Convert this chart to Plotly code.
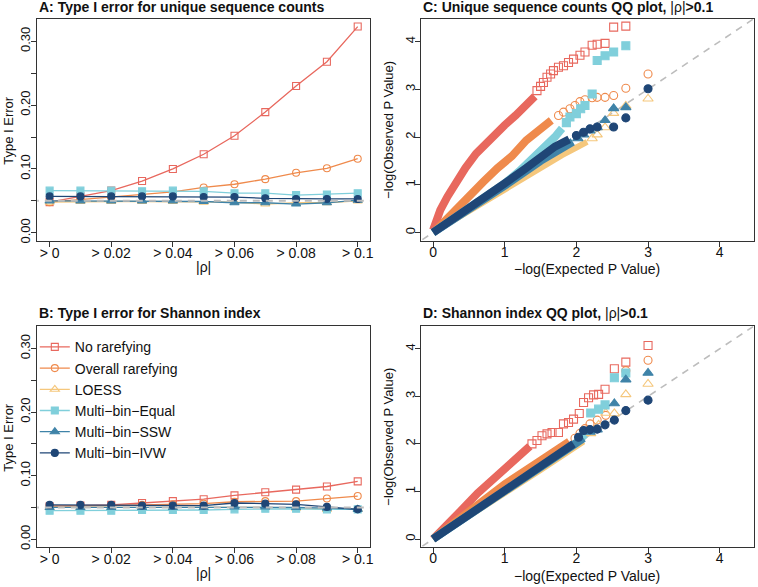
import plotly.graph_objects as go

# ---------------- data ----------------
thresholds = [0, 0.01, 0.02, 0.03, 0.04, 0.05, 0.06, 0.07, 0.08, 0.09, 0.1]
x_tick_vals = [0, 0.02, 0.04, 0.06, 0.08, 0.1]
x_tick_text = ["> 0", "> 0.02", "> 0.04", "> 0.06", "> 0.08", "> 0.1"]
y_tick_vals = [0, 0.05, 0.10, 0.15, 0.20, 0.25, 0.30]
y_tick_text = ["0.00", "", "0.10", "", "0.20", "", "0.30"]
qq_ticks = [0, 1, 2, 3, 4]

methods = ["No rarefying", "Overall rarefying", "LOESS",
           "Multi\u2212bin\u2212Equal", "Multi\u2212bin\u2212SSW", "Multi\u2212bin\u2212IVW"]
colors = ["#E8685E", "#EF8A4C", "#F5C77C", "#80CFDB", "#3F83A8", "#1F4676"]
symbols = ["square-open", "circle-open", "triangle-up-open", "square", "triangle-up", "circle"]

# Panel A: type I error, unique sequence counts
a_no_rare = [0.048, 0.057, 0.066, 0.081, 0.100, 0.123, 0.152, 0.189, 0.230, 0.268, 0.323]
a_overall = [0.048, 0.052, 0.055, 0.059, 0.064, 0.071, 0.076, 0.084, 0.094, 0.101, 0.116]
a_loess = [0.048, 0.049, 0.049, 0.049, 0.049, 0.048, 0.048, 0.045, 0.047, 0.047, 0.050]
a_equal = [0.066, 0.066, 0.066, 0.065, 0.066, 0.065, 0.062, 0.062, 0.059, 0.060, 0.062]
a_ssw = [0.050, 0.050, 0.050, 0.050, 0.050, 0.049, 0.047, 0.047, 0.045, 0.047, 0.051]
a_ivw = [0.057, 0.057, 0.057, 0.057, 0.057, 0.056, 0.056, 0.054, 0.053, 0.053, 0.053]

# Panel B: type I error, Shannon index
b_no_rare = [0.052, 0.053, 0.054, 0.057, 0.060, 0.063, 0.069, 0.074, 0.078, 0.083, 0.091]
b_overall = [0.052, 0.052, 0.053, 0.054, 0.055, 0.056, 0.059, 0.060, 0.060, 0.064, 0.068]
b_loess = [0.050, 0.050, 0.050, 0.050, 0.050, 0.050, 0.051, 0.050, 0.049, 0.047, 0.047]
b_equal = [0.045, 0.045, 0.045, 0.046, 0.046, 0.046, 0.047, 0.048, 0.048, 0.047, 0.047]
b_ssw = [0.050, 0.050, 0.050, 0.050, 0.050, 0.050, 0.051, 0.051, 0.050, 0.049, 0.047]
b_ivw = [0.054, 0.054, 0.054, 0.053, 0.053, 0.053, 0.057, 0.056, 0.055, 0.051, 0.047]

# Panel C: QQ, unique sequence counts (expected, observed) -- dense band and tail points
c_no_rare_band = [(0, 0.05), (0.05, 0.3), (0.1, 0.47), (0.2, 0.75), (0.3, 1.02), (0.45, 1.35),
                  (0.6, 1.65), (0.8, 1.97), (1.0, 2.25), (1.15, 2.45), (1.3, 2.65), (1.42, 2.85)]
c_no_rare_tail = [(1.45, 2.97), (1.50, 3.06), (1.54, 3.14), (1.59, 3.25), (1.64, 3.32), (1.68, 3.39),
                  (1.75, 3.46), (1.82, 3.49), (1.89, 3.56), (1.96, 3.63), (2.05, 3.71), (2.12, 3.78),
                  (2.22, 3.92), (2.29, 3.94), (2.40, 3.96), (2.52, 4.30), (2.69, 4.32)]
c_overall_band = [(0.02, 0.02), (0.15, 0.23), (0.3, 0.45), (0.5, 0.76), (0.7, 1.06), (0.9, 1.35),
                  (1.1, 1.6), (1.3, 1.93), (1.5, 2.17), (1.65, 2.35)]
c_overall_tail = [(1.75, 2.45), (1.82, 2.52), (1.91, 2.59), (1.98, 2.66), (2.05, 2.74), (2.12, 2.78),
                  (2.22, 2.82), (2.29, 2.83), (2.40, 2.83), (2.52, 2.87), (2.69, 3.02), (3.0, 3.32)]
c_loess_band = [(0, 0), (0.5, 0.45), (1.0, 0.92), (1.5, 1.38), (1.8, 1.62), (2.0, 1.78), (2.15, 1.9)]
c_loess_tail = [(2.22, 1.97), (2.29, 2.05), (2.40, 2.2), (2.52, 2.5), (2.69, 2.65), (3.0, 2.80)]
c_equal_band = [(0, 0), (0.5, 0.5), (1.0, 1.03), (1.2, 1.28), (1.4, 1.55), (1.55, 1.78),
                (1.7, 2.0), (1.8, 2.18)]
c_equal_tail = [(1.86, 2.3), (1.91, 2.42), (2.0, 2.49), (2.06, 2.59), (2.12, 2.66), (2.22, 2.90),
                (2.29, 3.60), (2.40, 3.70), (2.52, 3.78), (2.69, 3.91)]
c_ssw_band = [(0, 0), (0.5, 0.48), (1.0, 0.98), (1.5, 1.5), (1.8, 1.78), (1.95, 1.9)]
c_ssw_tail = [(2.02, 1.97), (2.10, 2.05), (2.19, 2.13), (2.29, 2.2), (2.40, 2.35), (2.52, 2.60),
              (2.69, 2.62)]
c_ivw_band = [(0, 0), (0.5, 0.5), (1.0, 1.03), (1.3, 1.35), (1.5, 1.58), (1.7, 1.8), (1.9, 1.95)]
c_ivw_tail = [(2.0, 2.03), (2.10, 2.10), (2.19, 2.17), (2.29, 2.21), (2.52, 2.21), (2.69, 2.40),
              (3.0, 3.01)]

# Panel D: QQ, Shannon index
d_no_rare_band = [(0, 0), (0.2, 0.28), (0.38, 0.58), (0.62, 0.96), (1.0, 1.48), (1.2, 1.72),
                  (1.35, 1.95)]
d_no_rare_tail = [(1.38, 2.0), (1.45, 2.07), (1.52, 2.17), (1.59, 2.21), (1.66, 2.24), (1.75, 2.24),
                  (1.82, 2.42), (1.89, 2.45), (1.96, 2.52), (2.04, 2.64), (2.10, 2.87), (2.17, 2.97),
                  (2.24, 3.03), (2.31, 3.04), (2.40, 3.15), (2.53, 3.58), (2.69, 3.72), (3.0, 4.07)]
d_overall_band = [(0, 0), (0.5, 0.6), (1.0, 1.15), (1.5, 1.65), (1.75, 1.92), (1.9, 2.05)]
d_overall_tail = [(1.98, 2.12), (2.05, 2.22), (2.12, 2.32), (2.19, 2.42), (2.29, 2.5), (2.41, 2.6),
                  (2.69, 3.54), (3.0, 3.76)]
d_loess_band = [(0, 0), (1.0, 0.95), (1.5, 1.45), (1.9, 1.85), (2.1, 2.05)]
d_loess_tail = [(2.2, 2.22), (2.31, 2.4), (2.41, 2.65), (2.53, 2.64), (2.69, 3.04), (3.0, 3.26)]
d_equal_band = [(0, 0), (0.5, 0.52), (1.0, 1.0), (1.5, 1.52), (1.8, 1.82), (2.0, 2.02), (2.12, 2.2)]
d_equal_tail = [(2.20, 2.65), (2.31, 2.73), (2.40, 2.82), (2.53, 3.39), (2.69, 3.49)]
d_ssw_band = [(0, 0), (1.0, 1.0), (1.5, 1.52), (1.9, 1.92), (2.1, 2.12)]
d_ssw_tail = [(2.19, 2.25), (2.29, 2.3), (2.53, 2.85), (2.69, 3.35), (3.0, 3.49)]
d_ivw_band = [(0, 0), (0.5, 0.5), (1.0, 1.02), (1.5, 1.55), (1.8, 1.85), (1.96, 2.0)]
d_ivw_tail = [(2.03, 2.14), (2.10, 2.28), (2.19, 2.30), (2.29, 2.31), (2.40, 2.40), (2.53, 2.50),
              (2.69, 2.70), (3.0, 2.92)]

nominal_alpha = 0.05
# ---------------- figure ----------------
W, H = 758, 587
FONT = "Liberation Sans, Arial, Helvetica, sans-serif"

def px_x(p):
    return p / W

def px_y(p):
    return 1 - p / H

dom_x_left = [px_x(37.5), px_x(372)]
dom_x_right = [px_x(423), px_x(757.5)]
dom_y_top = [px_y(242), px_y(19)]
dom_y_bot = [px_y(550), px_y(328)]

fig = go.Figure()

panelA = [a_no_rare, a_overall, a_loess, a_equal, a_ssw, a_ivw]
panelB = [b_no_rare, b_overall, b_loess, b_equal, b_ssw, b_ivw]
panelC = [(c_no_rare_band, c_no_rare_tail), (c_overall_band, c_overall_tail),
          (c_loess_band, c_loess_tail), (c_equal_band, c_equal_tail),
          (c_ssw_band, c_ssw_tail), (c_ivw_band, c_ivw_tail)]
panelD = [(d_no_rare_band, d_no_rare_tail), (d_overall_band, d_overall_tail),
          (d_loess_band, d_loess_tail), (d_equal_band, d_equal_tail),
          (d_ssw_band, d_ssw_tail), (d_ivw_band, d_ivw_tail)]
band_widths = [8, 8, 6, 8, 8, 8]


def err_panel(data, xa, ya, legend):
    for i, vals in enumerate(data):
        fig.add_trace(go.Scatter(
            x=thresholds, y=vals, mode="lines+markers", name=methods[i],
            xaxis=xa, yaxis=ya, showlegend=legend,
            line=dict(color=colors[i], width=1.3),
            marker=dict(symbol=symbols[i], size=7 if "triangle" not in symbols[i] else 8,
                        color=colors[i], line=dict(color=colors[i], width=1.1)),
        ))
    fig.add_trace(go.Scatter(
        x=[-0.01, 0.11], y=[nominal_alpha, nominal_alpha], mode="lines",
        xaxis=xa, yaxis=ya, showlegend=False, hoverinfo="skip",
        line=dict(color="#BDBDBD", width=2, dash="7px,6px")))


def qq_panel(data, xa, ya):
    fig.add_trace(go.Scatter(
        x=[-0.3, 4.6], y=[-0.3, 4.6], mode="lines", xaxis=xa, yaxis=ya,
        showlegend=False, hoverinfo="skip",
        line=dict(color="#BDBDBD", width=1.6, dash="7px,6px")))
    for i, (band, tail) in enumerate(data):
        fig.add_trace(go.Scatter(
            x=[p[0] for p in band], y=[p[1] for p in band], mode="lines",
            xaxis=xa, yaxis=ya, showlegend=False,
            line=dict(color=colors[i], width=band_widths[i])))
        fig.add_trace(go.Scatter(
            x=[p[0] for p in tail], y=[p[1] for p in tail], mode="markers",
            xaxis=xa, yaxis=ya, showlegend=False,
            marker=dict(symbol=symbols[i], size=8 if "triangle" not in symbols[i] else 9,
                        color=colors[i], line=dict(color=colors[i], width=1.1))))


err_panel(panelA, "x", "y", False)
err_panel(panelB, "x3", "y3", True)
qq_panel(panelC, "x2", "y2")
qq_panel(panelD, "x4", "y4")

axis_common = dict(showline=True, mirror=True, linecolor="#333333", linewidth=1,
                   ticks="outside", ticklen=5, tickcolor="#333333", showgrid=False,
                   zeroline=False, tickfont=dict(family=FONT, size=14, color="#111111"))

err_x = dict(axis_common, range=[-0.004, 0.104], tickvals=x_tick_vals, ticktext=x_tick_text,
             ticklabelstandoff=-6)
err_y = dict(axis_common, range=[-0.0125, 0.335], tickvals=y_tick_vals, ticktext=y_tick_text,
             tickangle=-90, tickfont=dict(family=FONT, size=13, color="#111111"),
             ticklabelstandoff=-4)
qq_x = dict(axis_common, range=[-0.172, 4.472], tickvals=qq_ticks, ticklabelstandoff=-7)
qq_y = dict(axis_common, range=[-0.172, 4.472], tickvals=qq_ticks, tickangle=-90,
            tickfont=dict(family=FONT, size=13, color="#111111"), ticklabelstandoff=-5)

fig.update_layout(
    width=W, height=H, margin=dict(l=0, r=0, t=0, b=0),
    paper_bgcolor="white", plot_bgcolor="white",
    font=dict(family=FONT, size=14, color="#111111"),
    xaxis=dict(err_x, domain=dom_x_left, anchor="y"),
    yaxis=dict(err_y, domain=dom_y_top, anchor="x"),
    xaxis3=dict(err_x, domain=dom_x_left, anchor="y3"),
    yaxis3=dict(err_y, domain=dom_y_bot, anchor="x3"),
    xaxis2=dict(qq_x, domain=dom_x_right, anchor="y2"),
    yaxis2=dict(qq_y, domain=dom_y_top, anchor="x2"),
    xaxis4=dict(qq_x, domain=dom_x_right, anchor="y4"),
    yaxis4=dict(qq_y, domain=dom_y_bot, anchor="x4"),
    showlegend=True,
    legend=dict(x=px_x(35), y=px_y(333), xanchor="left", yanchor="top",
                bgcolor="rgba(0,0,0,0)", borderwidth=0,
                font=dict(family=FONT, size=14, color="#111111"),
                itemwidth=30, tracegroupgap=0),
)

titles = [
    (37.5, 7, "<b>A: Type I error for unique sequence counts</b>"),
    (37.5, 315, "<b>B: Type I error for Shannon index</b>"),
    (423, 7, "<b>C: Unique sequence counts QQ plot, </b>|\u03c1|<b>&gt;0.1</b>"),
    (423, 315, "<b>D: Shannon index QQ plot, </b>|\u03c1|<b>&gt;0.1</b>"),
]
ann = []
for x, y, t in titles:
    ann.append(dict(x=px_x(x), y=px_y(y), xref="paper", yref="paper", text=t, showarrow=False,
                    xanchor="left", yanchor="middle", font=dict(family=FONT, size=14, color="#111111")))

axis_titles = [
    (205, 268, "|\u03c1|", 0), (205, 576, "|\u03c1|", 0),
    (590, 270, "\u2212log(Expected P Value)", 0), (590, 579, "\u2212log(Expected P Value)", 0),
    (9, 130.5, "Type I Error", -90), (9, 439, "Type I Error", -90),
    (391, 130.5, "\u2212log(Observed P Value)", -90), (391, 439, "\u2212log(Observed P Value)", -90),
]
for x, y, t, ang in axis_titles:
    ann.append(dict(x=px_x(x), y=px_y(y), xref="paper", yref="paper", text=t, showarrow=False,
                    xanchor="center", yanchor="middle", textangle=ang,
                    font=dict(family=FONT, size=14 if ang == 0 else 13, color="#111111")))
fig.update_layout(annotations=ann)

fig.write_html("out.html")
